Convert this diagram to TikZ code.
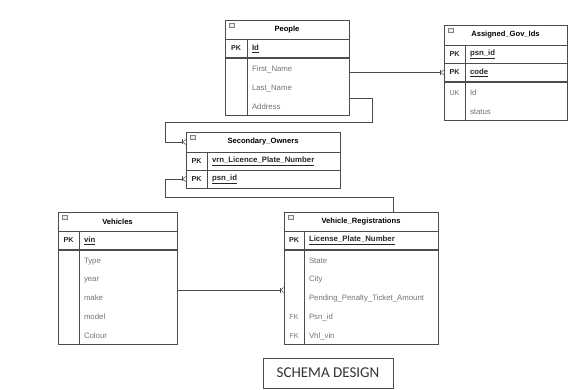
\documentclass[tikz,border=0pt]{standalone}
\usepackage{fontspec}
\setmainfont{Liberation Sans}
\newfontfamily\captionfont{Carlito}
\usetikzlibrary{arrows.meta}

\tikzset{
    cell/.style={draw=black!70, line width=0.6pt, anchor=north west, inner sep=0pt, outer sep=0pt},
    headcell/.style={cell, font=\fontsize{7.6}{9}\selectfont\bfseries},
    keycell/.style={cell, font=\fontsize{7.2}{18.8}\selectfont\bfseries, text=black!85},
    keybody/.style={cell, align=center, font=\fontsize{7.2}{18.8}\selectfont, text=black!55},
    fieldcell/.style={cell, align=left, inner xsep=5pt, font=\fontsize{7.8}{18.8}\selectfont, text=black!55},
    pkfield/.style={fieldcell, font=\fontsize{7.8}{18.8}\selectfont\bfseries, text=black!85},
    pkline/.style={draw=black!70, line width=1.1pt},
    icon/.style={draw=black!50, fill=black!8, line width=0.4pt},
    fk/.style={draw=black!70, line width=0.5pt, -{Bar[width=5pt]Straight Barb[reversed,length=3pt,width=5pt]}}
}

\begin{document}
\begin{tikzpicture}[x=1pt,y=-1pt]
        \useasboundingbox (0,0) rectangle (573,390);

        % People
        \node[headcell, minimum width=124pt, minimum height=19pt] (peoplehead) at (225,20) {People};
        \node[keycell, minimum width=22pt, minimum height=19pt] (peoplepk) at (225,39) {PK};
        \node[pkfield, text width=92pt, minimum height=19pt] (peopleid) at (247,39) {\underline{Id}};
        \node[keybody, minimum width=22pt, minimum height=57pt] (peoplekeys) at (225,58) {};
        \node[fieldcell, text width=92pt, minimum height=57pt] (peoplefields) at (247,58) {\strut First\_Name\\\strut Last\_Name\\\strut Address};
        \draw[pkline] (peoplepk.south west) -- (peopleid.south east);
        \draw[icon] ([shift={(4pt,-3pt)}]peoplehead.north west) rectangle ++(5,4);

        % Assigned_Gov_Ids
        \node[headcell, minimum width=123pt, minimum height=20pt] (aghead) at (444,25) {Assigned\_Gov\_Ids};
        \node[keycell, minimum width=21pt, minimum height=18pt] (agpsnkey) at (444,45) {PK};
        \node[pkfield, text width=92pt, minimum height=18pt] (agpsn) at (465,45) {\underline{psn\_id}};
        \node[keycell, minimum width=21pt, minimum height=19pt] (agcodekey) at (444,63) {PK};
        \node[pkfield, text width=92pt, minimum height=19pt] (agcode) at (465,63) {\underline{code}};
        \node[keybody, minimum width=21pt, minimum height=38pt] (agkeys) at (444,82) {\strut UK\\\strut};
        \node[fieldcell, text width=92pt, minimum height=38pt] (agfields) at (465,82) {\strut Id\\\strut status};
        \draw[pkline] (agcodekey.south west) -- (agcode.south east);
        \draw[icon] ([shift={(4pt,-3pt)}]aghead.north west) rectangle ++(5,4);

        % Secondary_Owners
        \node[headcell, minimum width=154pt, minimum height=20pt] (sohead) at (186,132) {Secondary\_Owners};
        \node[keycell, minimum width=21pt, minimum height=18pt] (sovrnkey) at (186,152) {PK};
        \node[pkfield, text width=123pt, minimum height=18pt] (sovrn) at (207,152) {\underline{vrn\_Licence\_Plate\_Number}};
        \node[keycell, minimum width=21pt, minimum height=18pt] (sopsnkey) at (186,170) {PK};
        \node[pkfield, text width=123pt, minimum height=18pt] (sopsn) at (207,170) {\underline{psn\_id}};
        \draw[icon] ([shift={(4pt,-3pt)}]sohead.north west) rectangle ++(5,4);

        % Vehicles
        \node[headcell, minimum width=119pt, minimum height=19pt] (vehhead) at (58,212) {Vehicles};
        \node[keycell, minimum width=21pt, minimum height=19pt] (vehpk) at (58,231) {PK};
        \node[pkfield, text width=88pt, minimum height=19pt] (vehvin) at (79,231) {\underline{vin}};
        \node[keybody, minimum width=21pt, minimum height=94pt] (vehkeys) at (58,250) {};
        \node[fieldcell, text width=88pt, minimum height=94pt] (vehfields) at (79,250) {\strut Type\\\strut year\\\strut make\\\strut model\\\strut Colour};
        \draw[pkline] (vehpk.south west) -- (vehvin.south east);
        \draw[icon] ([shift={(4pt,-3pt)}]vehhead.north west) rectangle ++(5,4);

        % Vehicle_Registrations
        \node[headcell, minimum width=154pt, minimum height=19pt] (vrhead) at (284,212) {Vehicle\_Registrations};
        \node[keycell, minimum width=20pt, minimum height=19pt] (vrpk) at (284,231) {PK};
        \node[pkfield, text width=124pt, minimum height=19pt] (vrplate) at (304,231) {\underline{License\_Plate\_Number}};
        \node[keybody, minimum width=20pt, minimum height=94pt] (vrkeys) at (284,250) {\strut\\\strut\\\strut\\\strut FK\\\strut FK};
        \node[fieldcell, text width=124pt, minimum height=94pt] (vrfields) at (304,250) {\strut State\\\strut City\\\strut Pending\_Penalty\_Ticket\_Amount\\\strut Psn\_id\\\strut Vhl\_vin};
        \draw[pkline] (vrpk.south west) -- (vrplate.south east);
        \draw[icon] ([shift={(4pt,-3pt)}]vrhead.north west) rectangle ++(5,4);

        % links
        \coordinate (bendA) at (165,122);
        \coordinate (bendB) at (165,197);
        \draw[fk] (peoplefields.east |- agcodekey.west) -- (agcodekey.west);
        \draw[fk] ([yshift=17pt]peoplefields.south east) -- ++(23,0) |- (bendA) |- (sohead.west);
        \draw[fk] ([xshift=32pt]vrhead.north) |- (bendB) |- (sopsnkey.west);
        \draw[fk] ([yshift=7pt]vehfields.east) -- ([yshift=7pt]vrkeys.west);

        \node[draw=black!70, line width=0.6pt, minimum width=130pt, minimum height=30pt, font=\captionfont\fontsize{15}{18}\selectfont, text=black!80] (caption) at (328,373) {SCHEMA DESIGN};
    \end{tikzpicture}
\end{document}
